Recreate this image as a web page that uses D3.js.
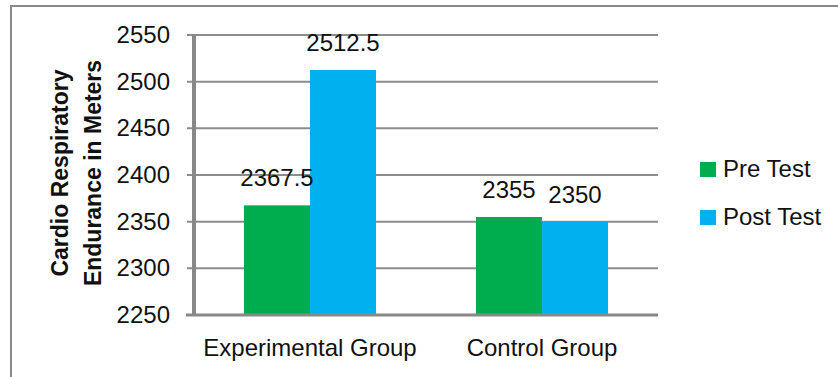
<!DOCTYPE html>
<html>
<head>
<meta charset="utf-8">
<script src="https://cdn.jsdelivr.net/npm/d3@7"></script>
<style>
  body { margin: 0; background: #fff; }
  svg { display: block; font-family: "Liberation Sans", Arial, sans-serif; }
</style>
</head>
<body>
<svg width="838" height="377"></svg>
<script>
var groups = ["Experimental Group", "Control Group"];
var series = ["Pre Test", "Post Test"];
var preTest = [2367.5, 2355];
var postTest = [2512.5, 2350];
var yTicks = [2250, 2300, 2350, 2400, 2450, 2500, 2550];
var colors = ["#00ad4e", "#00b0ef"];

var svg = d3.select("svg");
var plotLeft = 194, plotRight = 658, plotTop = 35, plotBottom = 315;

// outer frame
svg.append("rect")
  .attr("x", 11).attr("y", 6)
  .attr("width", 840).attr("height", 380)
  .attr("fill", "none")
  .attr("stroke", "#888").attr("stroke-width", 2);

var x = d3.scaleBand().domain(groups).range([plotLeft, plotRight]);
var inner = d3.scaleBand().domain(series).range([0, 132]);
var y = d3.scaleLinear().domain([2250, 2550]).range([plotBottom, plotTop]);

// gridlines
svg.append("g")
  .selectAll("line")
  .data(yTicks.slice(1))
  .enter().append("line")
  .attr("x1", plotLeft - 7).attr("x2", plotRight)
  .attr("y1", function(d) { return y(d); })
  .attr("y2", function(d) { return y(d); })
  .attr("stroke", "#8c8c8c").attr("stroke-width", 2);

// y tick labels
svg.append("g")
  .selectAll("text")
  .data(yTicks)
  .enter().append("text")
  .attr("x", 170)
  .attr("y", function(d) { return y(d) + 8; })
  .attr("text-anchor", "end")
  .attr("font-size", "24px")
  .attr("fill", "#111")
  .text(function(d) { return d; });

// bars
var data = [];
groups.forEach(function(g, i) {
  data.push({group: g, key: "Pre Test", value: preTest[i]});
  data.push({group: g, key: "Post Test", value: postTest[i]});
});

var bx = function(d) { return x(d.group) + (x.bandwidth() - 132) / 2 + inner(d.key); };

svg.selectAll(".bar")
  .data(data)
  .enter().append("rect")
  .attr("class", "bar")
  .attr("x", bx)
  .attr("y", function(d) { return y(d.value); })
  .attr("width", inner.bandwidth())
  .attr("height", function(d) { return y(2250) - y(d.value); })
  .attr("fill", function(d) { return colors[series.indexOf(d.key)]; });

// value labels
svg.selectAll(".val")
  .data(data)
  .enter().append("text")
  .attr("class", "val")
  .attr("x", function(d) { return bx(d) + inner.bandwidth() / 2; })
  .attr("y", function(d) { return y(d.value) - 19; })
  .attr("text-anchor", "middle")
  .attr("font-size", "24px")
  .attr("fill", "#111")
  .text(function(d) { return d.value; });

// axes lines
svg.append("line")
  .attr("x1", plotLeft).attr("x2", plotLeft)
  .attr("y1", plotTop).attr("y2", plotBottom)
  .attr("stroke", "#888").attr("stroke-width", 4);
svg.append("line")
  .attr("x1", plotLeft - 8).attr("x2", plotRight)
  .attr("y1", plotBottom).attr("y2", plotBottom)
  .attr("stroke", "#888").attr("stroke-width", 3);

// x labels
svg.append("g")
  .selectAll("text")
  .data(groups)
  .enter().append("text")
  .attr("x", function(d) { return x(d) + x.bandwidth() / 2; })
  .attr("y", 356)
  .attr("text-anchor", "middle")
  .attr("font-size", "24px")
  .attr("fill", "#111")
  .text(function(d) { return d; });

// y title
var yt = svg.append("text")
  .attr("transform", "translate(68,173) rotate(-90)")
  .attr("text-anchor", "middle")
  .attr("font-size", "23px")
  .attr("font-weight", "bold")
  .attr("fill", "#111");
yt.append("tspan").attr("x", 0).attr("y", 0).text("Cardio Respiratory");
yt.append("tspan").attr("x", 0).attr("y", 33).text("Endurance in Meters");

// legend
var legend = svg.append("g")
  .selectAll("g")
  .data(series)
  .enter().append("g")
  .attr("transform", function(d, i) { return "translate(700," + (162 + i * 48) + ")"; });
legend.append("rect")
  .attr("width", 16).attr("height", 15)
  .attr("fill", function(d, i) { return colors[i]; });
legend.append("text")
  .attr("x", 23).attr("y", 15)
  .attr("font-size", "24px")
  .attr("fill", "#111")
  .text(function(d) { return d; });
</script>
</body>
</html>
